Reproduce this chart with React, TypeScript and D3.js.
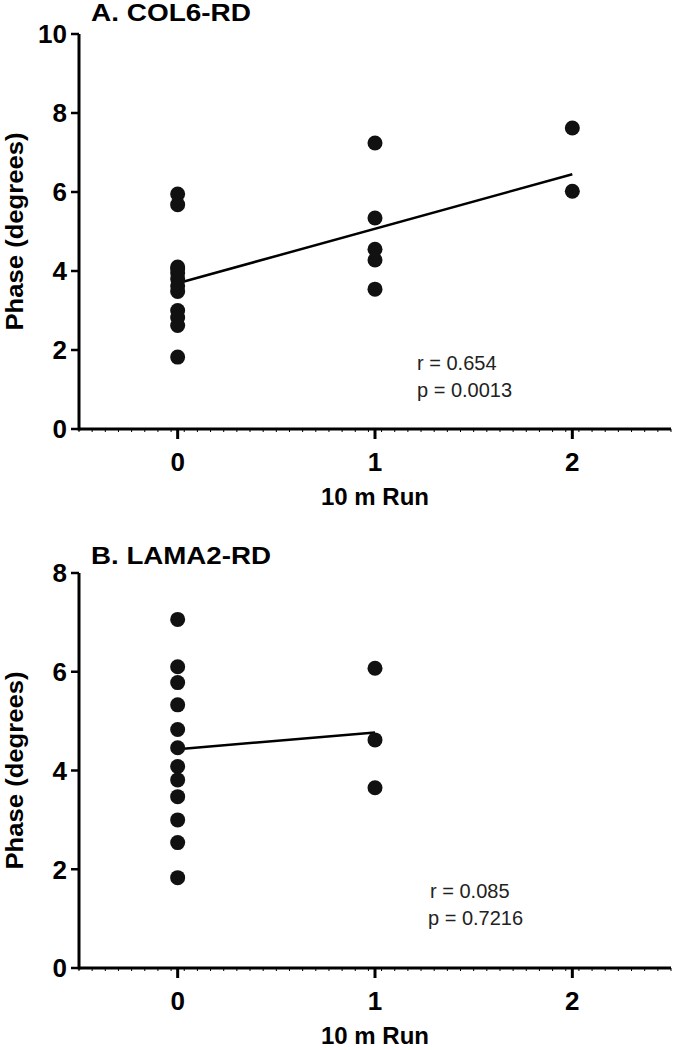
import React from "react";
import * as d3 from "d3";

// ---- Data ----
const runA = [0, 0, 0, 0, 0, 0, 0, 0, 0, 0, 0, 0, 1, 1, 1, 1, 1, 2, 2];
const phaseA = [5.95, 5.68, 4.1, 3.95, 3.8, 3.62, 3.48, 3.0, 2.82, 2.62, 1.82, 4.05, 7.24, 5.34, 4.55, 4.28, 3.54, 7.62, 6.02];
const fitA = [3.69, 1.38]; // intercept, slope
const fitRangeA = [0, 2];
const statsA = ["r = 0.654", "p = 0.0013"];

const runB = [0, 0, 0, 0, 0, 0, 0, 0, 0, 0, 0, 0, 1, 1, 1];
const phaseB = [7.06, 6.1, 5.78, 5.33, 4.83, 4.46, 4.08, 3.81, 3.47, 3.0, 2.54, 1.83, 6.07, 4.62, 3.65];
const fitB = [4.43, 0.34];
const fitRangeB = [0, 1];
const statsB = ["r = 0.085", "p = 0.7216"];

const xTicks = [0, 1, 2];
const yTicksA = [0, 2, 4, 6, 8, 10];
const yTicksB = [0, 2, 4, 6, 8];

const FONT = "'Liberation Sans', Arial, Helvetica, sans-serif";

type PanelProps = {
  title: string;
  titleLen: number;
  run: number[];
  phase: number[];
  fit: number[];
  fitRange: number[];
  stats: string[];
  yTicks: number[];
  yMax: number;
  y0: number;
  yTop: number;
  statsPos: number[][];
  titleY: number;
};

const X_LEFT = 79;
const X_RIGHT = 671;

function Panel(p: PanelProps) {
  const x = d3.scaleLinear().domain([-0.5, 2.5]).range([X_LEFT, X_RIGHT]);
  const y = d3.scaleLinear().domain([0, p.yMax]).range([p.y0, p.yTop]);
  const minor = d3.range(0, 46).map((i) => -0.5 + i / 15);
  const line = d3
    .line<number>()
    .x((d) => x(d))
    .y((d) => y(p.fit[0] + p.fit[1] * d));
  const midY = (p.y0 + p.yTop) / 2;
  return (
    <g>
      <text x={91} y={p.titleY} fontFamily={FONT} fontWeight="bold" fontSize={24} textLength={p.titleLen} lengthAdjust="spacingAndGlyphs">
        {p.title}
      </text>
      {/* y axis */}
      <line x1={X_LEFT} x2={X_LEFT} y1={y(0) + 1.5} y2={y(p.yMax)} stroke="#000" strokeWidth={3} />
      {p.yTicks.map((t) => (
        <g key={"y" + t}>
          <line x1={X_LEFT - 8} x2={X_LEFT} y1={y(t)} y2={y(t)} stroke="#000" strokeWidth={2.5} />
          <text x={X_LEFT - 12} y={y(t)} dy="0.36em" textAnchor="end" fontFamily={FONT} fontWeight="bold" fontSize={26}>
            {t}
          </text>
        </g>
      ))}
      <text
        transform={`translate(23,${midY}) rotate(-90)`}
        textAnchor="middle"
        fontFamily={FONT}
        fontWeight="bold"
        fontSize={24}
        textLength={198}
        lengthAdjust="spacingAndGlyphs"
      >
        Phase (degrees)
      </text>
      {/* x axis */}
      <line x1={X_LEFT} x2={X_RIGHT} y1={y(0)} y2={y(0)} stroke="#000" strokeWidth={3} />
      {minor.map((m, i) => (
        <line key={"m" + i} x1={x(m)} x2={x(m)} y1={y(0)} y2={y(0) + 3} stroke="#000" strokeWidth={1} />
      ))}
      {xTicks.map((t) => (
        <g key={"x" + t}>
          <line x1={x(t)} x2={x(t)} y1={y(0)} y2={y(0) + 10} stroke="#000" strokeWidth={3} />
          <text x={x(t)} y={y(0) + 42} textAnchor="middle" fontFamily={FONT} fontWeight="bold" fontSize={26}>
            {t}
          </text>
        </g>
      ))}
      <text x={x(1)} y={y(0) + 76} textAnchor="middle" fontFamily={FONT} fontWeight="bold" fontSize={23} textLength={108} lengthAdjust="spacingAndGlyphs">
        10 m Run
      </text>
      {/* fit line */}
      <path d={line(p.fitRange) || ""} fill="none" stroke="#000" strokeWidth={2.5} />
      {/* points */}
      {p.run.map((r, i) => (
        <circle key={"c" + i} cx={x(r)} cy={y(p.phase[i])} r={7.5} fill="#111" />
      ))}
      {p.stats.map((s, i) => (
        <text key={"s" + i} x={p.statsPos[i][0]} y={p.statsPos[i][1]} fontFamily={FONT} fontSize={20} fill="#222">
          {s}
        </text>
      ))}
    </g>
  );
}

export default function App() {
  return (
    <svg width={675} height={1050} style={{ position: "absolute", left: 0, top: 0, background: "#fff" }}>
      <rect width={675} height={1050} fill="#fff" />
      <Panel
        title="A.  COL6-RD"
        titleLen={160}
        run={runA}
        phase={phaseA}
        fit={fitA}
        fitRange={fitRangeA}
        stats={statsA}
        yTicks={yTicksA}
        yMax={10}
        y0={429}
        yTop={34}
        statsPos={[[417, 370], [417, 397]]}
        titleY={21}
      />
      <Panel
        title="B.  LAMA2-RD"
        titleLen={180}
        run={runB}
        phase={phaseB}
        fit={fitB}
        fitRange={fitRangeB}
        stats={statsB}
        yTicks={yTicksB}
        yMax={8}
        y0={968}
        yTop={573}
        statsPos={[[430, 898], [428, 925]]}
        titleY={564}
      />
    </svg>
  );
}
